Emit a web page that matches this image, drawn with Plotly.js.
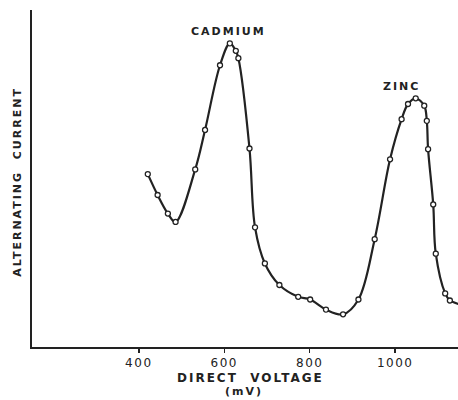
<!DOCTYPE html>
<html><head><meta charset="utf-8">
<script src="https://cdn.plot.ly/plotly-3.0.1.min.js"></script>
<style>html,body{margin:0;padding:0;background:#fff}#c{width:458px;height:400px}
#c .annotation-text{letter-spacing:2px}
#c .xtick text{letter-spacing:1.5px}
</style>
</head><body><div id="c"></div>
<script>
// Direct voltage (mV) and alternating current (relative units)
var voltage = [421,444,468,486,532,555,590,613,627,633,659,672,695,729,773,801,838,878,914,952,988,1015,1030,1048,1068,1074,1077,1089,1095,1117,1128,1160];
var current = [51.3,45.1,39.6,37.1,52.7,64.4,83.6,90.1,87.9,85.7,58.9,35.5,24.8,18.4,14.9,14.1,11.1,9.7,14.1,32.0,55.7,67.6,72.1,73.8,71.6,67.1,58.7,42.3,27.7,15.9,13.8,12.4];
var tickVals = [400,600,800,1000];
var tickText = ['400','600','800','1000'];
var peakLabels = ['CADMIUM','ZINC'];
var peakX = [613,1048];
var peakY = [90.1,73.8];
var peakShift = [-1,-14];

var ink = '#222';
var trace = {
  x: voltage, y: current, mode: 'lines+markers', type: 'scatter',
  line: {color: ink, width: 2.2, shape: 'spline', smoothing: 1},
  marker: {symbol: 'circle', size: 5, color: '#fff', line: {color: ink, width: 1.3}},
  hoverinfo: 'skip'
};
var ann = [];
for (var i = 0; i < peakLabels.length; i++) {
  ann.push({x: peakX[i], y: peakY[i], xref: 'x', yref: 'y', text: peakLabels[i], showarrow: false,
    yanchor: 'bottom', yshift: 3, xshift: peakShift[i], font: {family: 'DejaVu Sans', size: 11, color: ink, weight: 'bold'}});
}
ann.push({xref: 'paper', yref: 'paper', x: -0.033, y: 0.49, text: 'ALTERNATING  CURRENT', textangle: -90,
  showarrow: false, xanchor: 'center', yanchor: 'middle', font: {family: 'DejaVu Sans', size: 11, color: ink, weight: 'bold'}});
ann.push({xref: 'paper', yref: 'paper', x: 0.512, y: -0.093, text: 'DIRECT  VOLTAGE', showarrow: false,
  xanchor: 'center', yanchor: 'middle', font: {family: 'DejaVu Sans', size: 12, color: ink, weight: 'bold'}});
ann.push({xref: 'paper', yref: 'paper', x: 0.497, y: -0.132, text: '(mV)', showarrow: false,
  xanchor: 'center', yanchor: 'middle', font: {family: 'DejaVu Sans', size: 11, color: ink, weight: 'bold'}});

var layout = {
  width: 458, height: 400,
  margin: {l: 32, r: 0, t: 10, b: 53},
  paper_bgcolor: '#fff', plot_bgcolor: '#fff',
  showlegend: false,
  xaxis: {range: [150, 1147], showgrid: false, zeroline: false, showline: true, linecolor: ink, linewidth: 2,
    tickvals: tickVals, ticktext: tickText, ticks: 'outside', ticklen: 4, tickwidth: 1.5, tickcolor: ink,
    tickfont: {family: 'DejaVu Sans', size: 12, color: ink}},
  yaxis: {range: [0, 100], showgrid: false, zeroline: false, showline: true, linecolor: ink, linewidth: 2,
    showticklabels: false, ticks: ''},
  annotations: ann
};
Plotly.newPlot('c', [trace], layout, {staticPlot: true, displayModeBar: false});
</script></body></html>
